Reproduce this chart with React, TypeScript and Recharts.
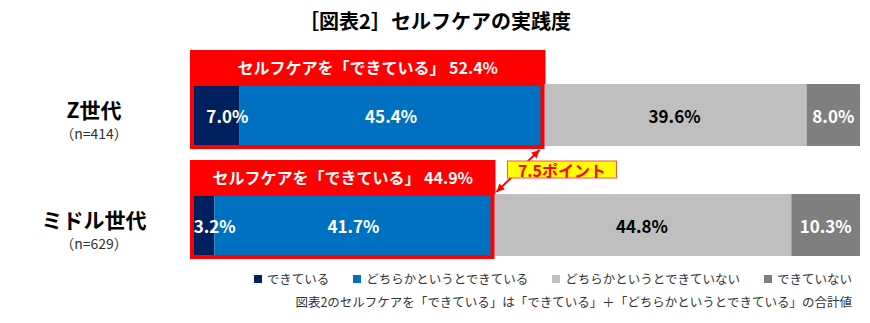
import { Bar, BarChart, LabelList, ReferenceLine, XAxis, YAxis } from 'recharts'

const categories = ['Z世代', 'ミドル世代']
const sampleSizes = ['（n=414）', '（n=629）']
const doneValues = [7.0, 3.2]
const somewhatDoneValues = [45.4, 41.7]
const somewhatNotValues = [39.6, 44.8]
const notDoneValues = [8.0, 10.3]
const doneTotals = [52.4, 44.9]
const gapLabel = '7.5ポイント'
const seriesNames = [
  'できている',
  'どちらかというとできている',
  'どちらかというとできていない',
  'できていない',
]
const title = '［図表2］セルフケアの実践度'
const footnote =
  '図表2のセルフケアを「できている」は「できている」＋「どちらかというとできている」の合計値'

const colors = ['#002060', '#0070C0', '#BFBFBF', '#7F7F7F']
const RED = '#FF0000'
const FONT = '"Noto Sans CJK JP", "Noto Sans", sans-serif'
const BAR_SIZE = 62
const HEADER_H = 34

const data = categories.map((name, i) => ({
  name,
  done: doneValues[i],
  somewhatDone: somewhatDoneValues[i],
  somewhatNot: somewhatNotValues[i],
  notDone: notDoneValues[i],
}))

const pct = (v: unknown) => `${Number(v).toFixed(1)}%`

const rectOf = (props: any) => props.viewBox ?? props

const valueLabel = (fill: string, dx = 0) => (props: any) => {
  const { x, y, width, height } = rectOf(props)
  return (
    <text
      x={x + width / 2 + dx}
      y={y + height / 2}
      fill={fill}
      textAnchor="middle"
      dominantBaseline="central"
      fontSize={17}
      fontWeight={700}
      fontFamily={FONT}
    >
      {pct(props.value)}
    </text>
  )
}

// red frame around "できている" total, built from the last segment's geometry
const RedBox = (props: any) => {
  const { x, y, width, height } = rectOf(props)
  const i = props.index
  const ppu = width / props.value
  const left = x + width - 100 * ppu
  const end = left + doneTotals[i] * ppu
  return (
    <g>
      <rect x={left - 3} y={y - HEADER_H} width={end - left + 6} height={HEADER_H} fill={RED} />
      <rect x={left - 1} y={y} width={end - left + 1} height={height + 1} fill="none" stroke={RED} strokeWidth={4} />
      <text
        x={(left + end) / 2}
        y={y - HEADER_H / 2}
        fill="#fff"
        textAnchor="middle"
        dominantBaseline="central"
        fontSize={16}
        fontWeight={700}
        fontFamily={FONT}
      >
        {`セルフケアを「できている」 ${pct(doneTotals[i])}`}
      </text>
    </g>
  )
}

const head = (tx: number, ty: number, fx: number, fy: number) => {
  const a = Math.atan2(ty - fy, tx - fx)
  const L = 8
  const W = 4
  const c = Math.cos(a)
  const s = Math.sin(a)
  return `${tx},${ty} ${tx - L * c + W * s},${ty - L * s - W * c} ${tx - L * c - W * s},${ty - L * s + W * c}`
}

const GapArrow = (props: any) => {
  const { x1, y1, x2, y2 } = props
  const sx = x1 - 3
  const sy = y1 + BAR_SIZE / 2 + 4
  const ex = x2 + 4
  const ey = y2 - BAR_SIZE / 2 - 2
  const bx = x2 + 15
  const by = y2 - BAR_SIZE / 2 - HEADER_H + 1
  return (
    <g>
      <line x1={sx} y1={sy} x2={ex} y2={ey} stroke={RED} strokeWidth={2} />
      <polygon points={head(sx, sy, ex, ey)} fill={RED} />
      <polygon points={head(ex, ey, sx, sy)} fill={RED} />
      <rect x={bx} y={by} width={109} height={17} fill="#FFFF00" stroke="#FF5050" strokeWidth={1} />
      <text
        x={bx + 54.5}
        y={by + 9}
        fill={RED}
        textAnchor="middle"
        dominantBaseline="central"
        fontSize={16}
        fontWeight={700}
        fontFamily={FONT}
      >
        {gapLabel}
      </text>
    </g>
  )
}

const CategoryTick = (props: any) => {
  const { y, payload } = props
  const i = categories.indexOf(payload.value)
  return (
    <g fontFamily={FONT} fill="#000">
      <text x={94} y={y - 6} textAnchor="middle" dominantBaseline="central" fontSize={21} fontWeight={700}>
        {payload.value}
      </text>
      <text x={94} y={y + 18} textAnchor="middle" dominantBaseline="central" fontSize={14} fill="#333">
        {sampleSizes[i]}
      </text>
    </g>
  )
}

export default function App() {
  return (
    <div style={{ position: 'absolute', left: 0, top: 0, width: 870, height: 323, background: '#fff', fontFamily: FONT }}>
      <div
        style={{
          position: 'absolute',
          top: 9,
          left: 0,
          width: 870,
          textAlign: 'center',
          fontSize: 20,
          lineHeight: '24px',
          fontWeight: 700,
          color: '#000',
        }}
      >
        {title}
      </div>
      <BarChart
        width={870}
        height={323}
        data={data}
        layout="vertical"
        margin={{ top: 60, right: 10, bottom: 43, left: 0 }}
        barSize={BAR_SIZE}
      >
        <XAxis type="number" domain={[0, 100]} hide />
        <YAxis type="category" dataKey="name" width={193} axisLine={false} tickLine={false} tick={CategoryTick} />
        <Bar dataKey="done" stackId="a" fill={colors[0]} isAnimationActive={false}>
          <LabelList dataKey="done" content={valueLabel('#fff', 11)} />
        </Bar>
        <Bar dataKey="somewhatDone" stackId="a" fill={colors[1]} isAnimationActive={false}>
          <LabelList dataKey="somewhatDone" content={valueLabel('#fff')} />
        </Bar>
        <Bar dataKey="somewhatNot" stackId="a" fill={colors[2]} isAnimationActive={false}>
          <LabelList dataKey="somewhatNot" content={valueLabel('#000')} />
        </Bar>
        <Bar dataKey="notDone" stackId="a" fill={colors[3]} isAnimationActive={false}>
          <LabelList dataKey="notDone" content={RedBox} />
          <LabelList dataKey="notDone" content={valueLabel('#fff')} />
        </Bar>
        <ReferenceLine
          segment={[
            { x: doneTotals[0], y: categories[0] },
            { x: doneTotals[1], y: categories[1] },
          ]}
          ifOverflow="visible"
          shape={GapArrow}
        />
      </BarChart>
      <div
        style={{
          position: 'absolute',
          top: 270,
          right: 18,
          display: 'flex',
          gap: 24,
          fontSize: 12.5,
          lineHeight: '18px',
          color: '#333',
          whiteSpace: 'nowrap',
        }}
      >
        {seriesNames.map((s, i) => (
          <span key={s} style={{ display: 'flex', alignItems: 'center', gap: 5 }}>
            <span style={{ width: 8, height: 8, background: colors[i], display: 'inline-block' }} />
            {s}
          </span>
        ))}
      </div>
      <div
        style={{
          position: 'absolute',
          top: 293,
          right: 18,
          fontSize: 12.5,
          lineHeight: '18px',
          color: '#333',
          whiteSpace: 'nowrap',
        }}
      >
        {footnote}
      </div>
    </div>
  )
}
